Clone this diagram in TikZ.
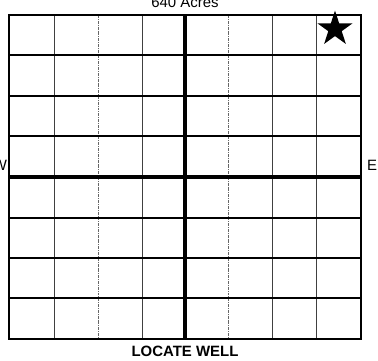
\documentclass[tikz,border=0pt]{standalone}
\usepackage{fontspec}
\setmainfont{Liberation Sans}
\usetikzlibrary{shapes.geometric}

\tikzset{
    thinline/.style={black!75, line width=0.8bp},
    quarterline/.style={black!60, line width=0.8bp, densely dash dot},
    rowline/.style={black, line width=2.2bp},
    halfline/.style={black, line width=4bp},
    label/.style={font=\fontsize{15}{18}\selectfont, inner sep=0pt}
}

\begin{document}
\begin{tikzpicture}[x=1bp, y=-1bp]
    \useasboundingbox (0,0) rectangle (378,361);

    % Quarter-quarter lines (vertical)
    \foreach \x in {54,142,272,316}
        \draw[thinline] (\x,15) -- (\x,339);
    \foreach \x in {98,228}
        \draw[quarterline] (\x,15) -- (\x,339);

    % Rows
    \foreach \y in {55,96,136,218,258,298}
        \draw[rowline] (9,\y) -- (361,\y);

    % Half section lines
    \draw[halfline] (9,177) -- (361,177);
    \draw[halfline] (185,15) -- (185,339);

    % Section boundary
    \draw[rowline] (9,15) rectangle (361,339);

    % Labels
    \node[label, anchor=base] (acres) at (185,7) {640 Acres};
    \node[label, anchor=base] (west) at (0,170) {W};
    \node[label, anchor=base west] (east) at (367,170) {E};
    \node[label, anchor=base, font=\fontsize{15}{18}\selectfont\bfseries] (title) at (185,356) {LOCATE WELL};

    % Well location
    \node[star, star points=5, star point ratio=2.618, fill=black, inner sep=0pt,
          minimum size=37bp] (well) at (335,29) {};
\end{tikzpicture}
\end{document}
